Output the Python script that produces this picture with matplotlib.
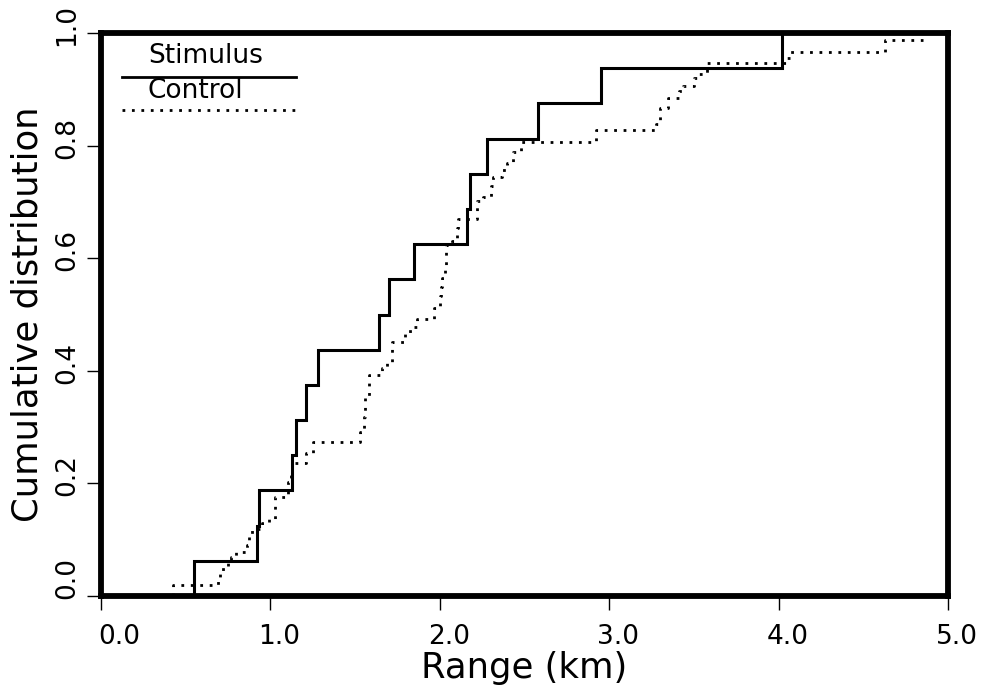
import matplotlib
matplotlib.use("Agg")
import matplotlib.pyplot as plt
import matplotlib.transforms as mtransforms

# Stimulus group: sorted ranges (km) and ECDF level after each jump
stimulus_range = [0.55, 0.92, 0.93, 1.13, 1.15, 1.21, 1.28, 1.64, 1.70, 1.85,
                  2.16, 2.18, 2.28, 2.58, 2.95, 4.02]
stimulus_cdf = [0.0625, 0.125, 0.1875, 0.25, 0.3125, 0.375, 0.4375, 0.5,
                0.5625, 0.625, 0.6875, 0.75, 0.8125, 0.875, 0.9375, 1.0]

# Control group: jump positions (km) and level after each jump
control_range = [0.425, 0.69, 0.70, 0.72, 0.75, 0.77, 0.80, 0.86, 0.875, 0.89,
                 0.95, 0.99, 1.03, 1.105, 1.12, 1.13, 1.21, 1.25, 1.53, 1.55,
                 1.56, 1.58, 1.585, 1.66, 1.69, 1.72, 1.795, 1.825, 1.865, 1.965,
                 2.00, 2.005, 2.015, 2.03, 2.035, 2.07, 2.10, 2.11, 2.22, 2.255,
                 2.30, 2.315, 2.37, 2.395, 2.43, 2.48, 2.92, 3.275, 3.30, 3.35,
                 3.41, 3.435, 3.50, 3.53, 3.58, 4.05, 4.07, 4.63]
control_cdf = [0.020, 0.030, 0.040, 0.053, 0.061, 0.069, 0.078, 0.091, 0.105, 0.119,
               0.130, 0.137, 0.176, 0.202, 0.218, 0.236, 0.254, 0.274, 0.291, 0.318,
               0.352, 0.377, 0.393, 0.405, 0.414, 0.451, 0.467, 0.478, 0.492, 0.512,
               0.533, 0.549, 0.565, 0.579, 0.623, 0.630, 0.654, 0.670, 0.702, 0.709,
               0.728, 0.744, 0.757, 0.769, 0.789, 0.806, 0.828, 0.838, 0.867, 0.885,
               0.897, 0.906, 0.920, 0.927, 0.947, 0.956, 0.966, 0.988]
control_last = 4.85  # where the control trace stops

x_ticks = [0.0, 1.0, 2.0, 3.0, 4.0, 5.0]
y_ticks = [0.0, 0.2, 0.4, 0.6, 0.8, 1.0]

fig = plt.figure(figsize=(9.84, 6.94), dpi=100)
ax = fig.add_axes([0.1026, 0.1412, 0.8608, 0.8112])

# step curves start from zero at the first observation
sx = [stimulus_range[0]] + stimulus_range
sy = [0.0] + stimulus_cdf
ax.plot(sx, sy, drawstyle="steps-post", color="black", lw=2.2,
        solid_joinstyle="miter")

cx = [control_range[0]] + control_range + [control_last]
cy = [0.0] + control_cdf + [control_cdf[-1]]
ax.plot(cx, cy, drawstyle="steps-post", color="black", lw=2.0,
        linestyle=(0, (1, 2.4)))

ax.set_xlim(0, 5)
ax.set_ylim(0, 1)
ax.set_xticks(x_ticks)
ax.set_yticks(y_ticks)
ax.set_xticklabels([f"{v:.1f}" for v in x_ticks])
ax.set_yticklabels([f"{v:.1f}" for v in y_ticks], rotation=90, va="center")

for s in ax.spines.values():
    s.set_linewidth(4.2)
ax.tick_params(direction="out", length=10, width=1.0, labelsize=19)
ax.tick_params(axis="x", pad=10)
ax.tick_params(axis="y", pad=5)

# labels in the original sit a little off their ticks (more so at the origin)
for i, lab in enumerate(ax.get_xticklabels()):
    dx = 0.18 if i == 0 else 0.09
    lab.set_transform(lab.get_transform() +
                      mtransforms.ScaledTranslation(dx, 0, fig.dpi_scale_trans))
for i, lab in enumerate(ax.get_yticklabels()):
    dy = 0.18 if i == 0 else 0.08
    lab.set_transform(lab.get_transform() +
                      mtransforms.ScaledTranslation(0, dy, fig.dpi_scale_trans))

ax.set_xlabel("Range (km)", fontsize=25.5, labelpad=1)
ax.set_ylabel("Cumulative distribution", fontsize=25.5, labelpad=7)

# hand-made legend: label sits above its line sample
ax.text(0.0555, 0.936, "Stimulus", transform=ax.transAxes, fontsize=19,
        ha="left", va="bottom")
ax.plot([0.0248, 0.2302], [0.922, 0.922], transform=ax.transAxes,
        color="black", lw=2.0)
ax.text(0.0555, 0.874, "Control", transform=ax.transAxes, fontsize=19,
        ha="left", va="bottom")
ax.plot([0.0248, 0.2302], [0.863, 0.863], transform=ax.transAxes,
        color="black", lw=2.0, linestyle=(0, (1, 2.4)))

fig.savefig("out.png", dpi=100)
